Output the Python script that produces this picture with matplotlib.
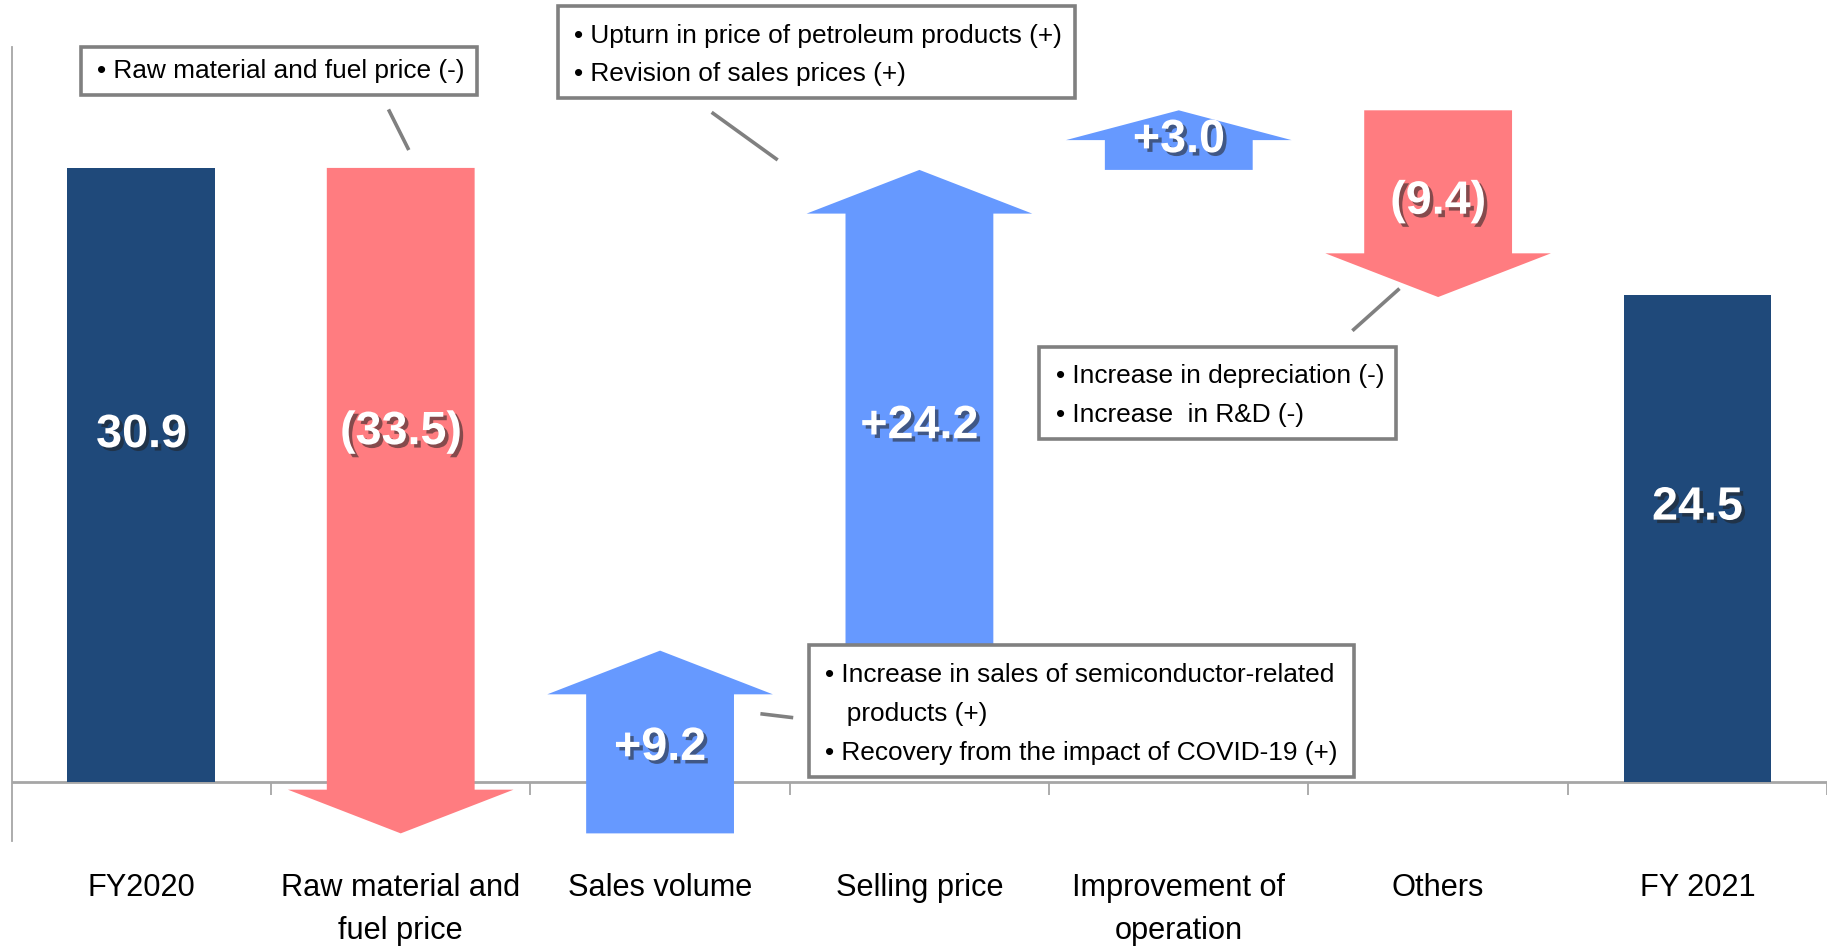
import matplotlib
matplotlib.use("Agg")
import matplotlib.pyplot as plt
import matplotlib.patheffects as pe
from matplotlib import font_manager
from matplotlib.patches import FancyArrow, Rectangle
from matplotlib.lines import Line2D

# data
categories = ["FY2020", "Raw material and\nfuel price", "Sales volume", "Selling price",
              "Improvement of\noperation", "Others", "FY 2021"]
start_value = 30.9
changes = [-33.5, 9.2, 24.2, 3.0, -9.4]
end_value = 24.5
value_labels = ["30.9", "(33.5)", "+9.2", "+24.2", "+3.0", "(9.4)", "24.5"]

notes = [
    ["• Raw material and fuel price (-)"],
    ["• Upturn in price of petroleum products (+)", "• Revision of sales prices (+)"],
    ["• Increase in depreciation (-)", "• Increase  in R&D (-)"],
    ["• Increase in sales of semiconductor-related", "   products (+)",
     "• Recovery from the impact of COVID-19 (+)"],
]

# layout (reference measured on a 1568 x 813 grid)
label_y = [17.45, 17.6, 1.7, 17.9, 32.3, 29.2, 13.8]
note_boxes = [(69, 40, 408, 81), (477, 5, 920, 84), (889, 297, 1194, 376), (692, 552, 1158, 665)]
note_lines_y = [[61], [31, 63], [322, 355], [578, 611, 644]]
connectors = [((333, 95), (349, 127)), ((610, 97), (664, 136)),
              ((1158, 282), (1196, 248)), ((652, 611), (677, 614))]

navy = "#1F497A"
red = "#FF7C80"
blue = "#6699FF"
grey = "#808080"

names = {f.name for f in font_manager.fontManager.ttflist}
if "Liberation Sans Narrow" in names:
    family = ["Liberation Sans Narrow", "DejaVu Sans"]
    k = 1.0
else:
    family = ["Liberation Sans", "DejaVu Sans"]
    k = 0.82
plt.rcParams["font.family"] = family


def fx(px):
    return px / 1568.0


def fy(py):
    return 1 - py / 813.0


fig = plt.figure(figsize=(18.33, 9.5), dpi=100)
ax = fig.add_axes([fx(10), fy(720), fx(1563) - fx(10), fy(40) - fy(720)])
ax.set_xlim(-0.5, 6.5)
ax.set_ylim(-3, 37)
for s in ["top", "right", "bottom"]:
    ax.spines[s].set_visible(False)
ax.spines["left"].set_color("#A6A6A6")
ax.spines["left"].set_linewidth(1.3)
ax.set_xticks([])
ax.set_yticks([])

ax.axhline(0, color="#A6A6A6", lw=2, zorder=1)
ax.vlines([i + 0.5 for i in range(7)], -0.65, 0, color="#A6A6A6", lw=1.3, zorder=1)

# totals
ax.bar([0, 6], [start_value, end_value], width=0.57, color=navy, zorder=2)

# change arrows
level = start_value
for i, v in enumerate(changes, start=1):
    hl = min(2.2, 0.5 * abs(v))
    arr = FancyArrow(i, level, 0, v, width=0.57, head_width=0.87, head_length=hl,
                     length_includes_head=True, color=red if v < 0 else blue,
                     lw=0, zorder=2)
    ax.add_patch(arr)
    level += v

shadow = [pe.withSimplePatchShadow(offset=(2.5, -2.5), shadow_rgbFace="#222222", alpha=0.55)]
for i, (t, y) in enumerate(zip(value_labels, label_y)):
    ax.text(i, y, t, ha="center", va="center", color="white", fontsize=41 * k,
            fontweight="bold", path_effects=shadow, zorder=4)

# category labels
for i, c in enumerate(categories):
    ax.text(i, -0.040, c, transform=ax.get_xaxis_transform(), ha="center", va="top",
            fontsize=27 * k, color="black", linespacing=1.55)

# note boxes
for (x0, y0, x1, y1), lines, ys in zip(note_boxes, notes, note_lines_y):
    fig.add_artist(Rectangle((fx(x0), fy(y1)), fx(x1) - fx(x0), fy(y0) - fy(y1),
                             transform=fig.transFigure, facecolor="white",
                             edgecolor=grey, lw=2.6, zorder=5))
    for line, ly in zip(lines, ys):
        fig.text(fx(x0 + 14), fy(ly), line, ha="left", va="center",
                 fontsize=23 * k, color="black", zorder=6)

for (a, b) in connectors:
    fig.add_artist(Line2D([fx(a[0]), fx(b[0])], [fy(a[1]), fy(b[1])],
                          transform=fig.transFigure, color=grey, lw=2.6))

fig.savefig("out.png", dpi=100)
